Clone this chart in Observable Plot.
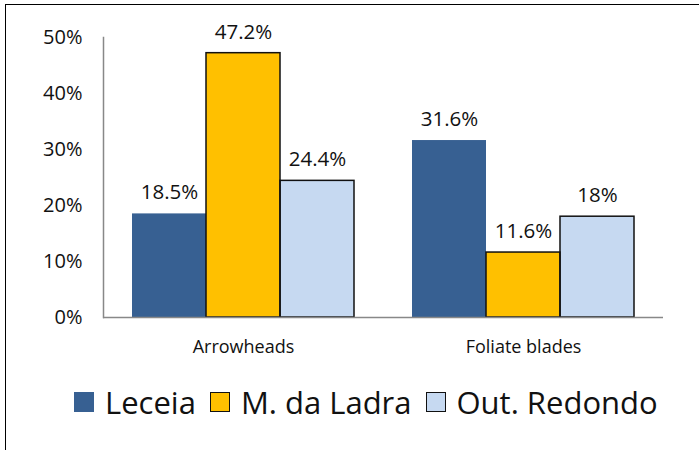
<!DOCTYPE html>
<html>
<head>
<meta charset="utf-8">
<script src="https://cdn.jsdelivr.net/npm/d3@7"></script>
<script src="https://cdn.jsdelivr.net/npm/@observablehq/plot@0.6"></script>
<style>
  html, body { margin: 0; padding: 0; background: #fff; width: 699px; height: 450px; overflow: hidden; }
  body { position: relative; font-family: "Open Sans", sans-serif; }
  #frame { position: absolute; left: 5px; top: 4px; width: 720px; height: 470px; border-left: 1.5px solid #000; border-top: 1.5px solid #000; }
  #chart { position: absolute; left: 0; top: 0; }
  #legend { position: absolute; left: 74px; top: 381px; display: flex; align-items: center; font-size: 31px; color: #111; white-space: nowrap; }
  #legend .item { display: flex; align-items: center; margin-right: 14px; }
  #legend .sw { width: 20px; height: 20px; margin-right: 11px; box-sizing: border-box; }
</style>
</head>
<body>
<div id="frame"></div>
<div id="chart"></div>
<div id="legend"></div>
<script>
const categories = ["Arrowheads", "Foliate blades"];
const series = ["Leceia", "M. da Ladra", "Out. Redondo"];
const leceia = [18.5, 31.6];
const ladra = [47.2, 11.6];
const redondo = [24.4, 18];
const colors = ["#376092", "#FFC000", "#C6D9F1"];
const outlined = [false, true, true];
const yTicks = [0, 10, 20, 30, 40, 50];

const valuesBySeries = [leceia, ladra, redondo];
const data = [];
categories.forEach((c, i) => {
  series.forEach((s, j) => {
    data.push({category: c, series: s, value: valuesBySeries[j][i]});
  });
});

const chart = Plot.plot({
  width: 699,
  height: 370,
  marginLeft: 102,
  marginRight: 36,
  marginTop: 37,
  marginBottom: 53,
  style: {fontFamily: "Open Sans", fontSize: "20px", color: "#111", background: "transparent"},
  fx: {domain: categories, padding: 0},
  x: {domain: series, paddingInner: 0, paddingOuter: 0.37, axis: null},
  y: {domain: [0, 50]},
  color: {domain: series, range: colors},
  marks: [
    Plot.frame({anchor: "left", stroke: "#888", strokeWidth: 1.5, facetAnchor: "left"}),
    Plot.axisY({ticks: yTicks, tickFormat: d => d + "%", tickSize: 0, tickPadding: 21, fontSize: 20, label: null}),
    Plot.axisFx({anchor: "bottom", tickSize: 0, tickPadding: 23, fontSize: 18, label: null}),
    Plot.barY(data, {fx: "category", x: "series", y: "value", fill: "series"}),
    Plot.barY(data, {filter: d => outlined[series.indexOf(d.series)], fx: "category", x: "series", y: "value", fill: "none", stroke: "#111", strokeWidth: 1.5}),
    Plot.ruleY([0], {stroke: "#888", strokeWidth: 1.5}),
    Plot.text(data, {fx: "category", x: "series", y: "value", text: d => d.value + "%", dy: -21, fontSize: 20.5, fill: "#111"})
  ]
});
document.getElementById("chart").appendChild(chart);

const legend = document.getElementById("legend");
series.forEach((s, j) => {
  const item = document.createElement("div");
  item.className = "item";
  const sw = document.createElement("div");
  sw.className = "sw";
  sw.style.background = colors[j];
  if (outlined[j]) sw.style.border = "1.5px solid #111";
  const t = document.createElement("span");
  t.textContent = s;
  item.appendChild(sw);
  item.appendChild(t);
  legend.appendChild(item);
});
</script>
</body>
</html>
